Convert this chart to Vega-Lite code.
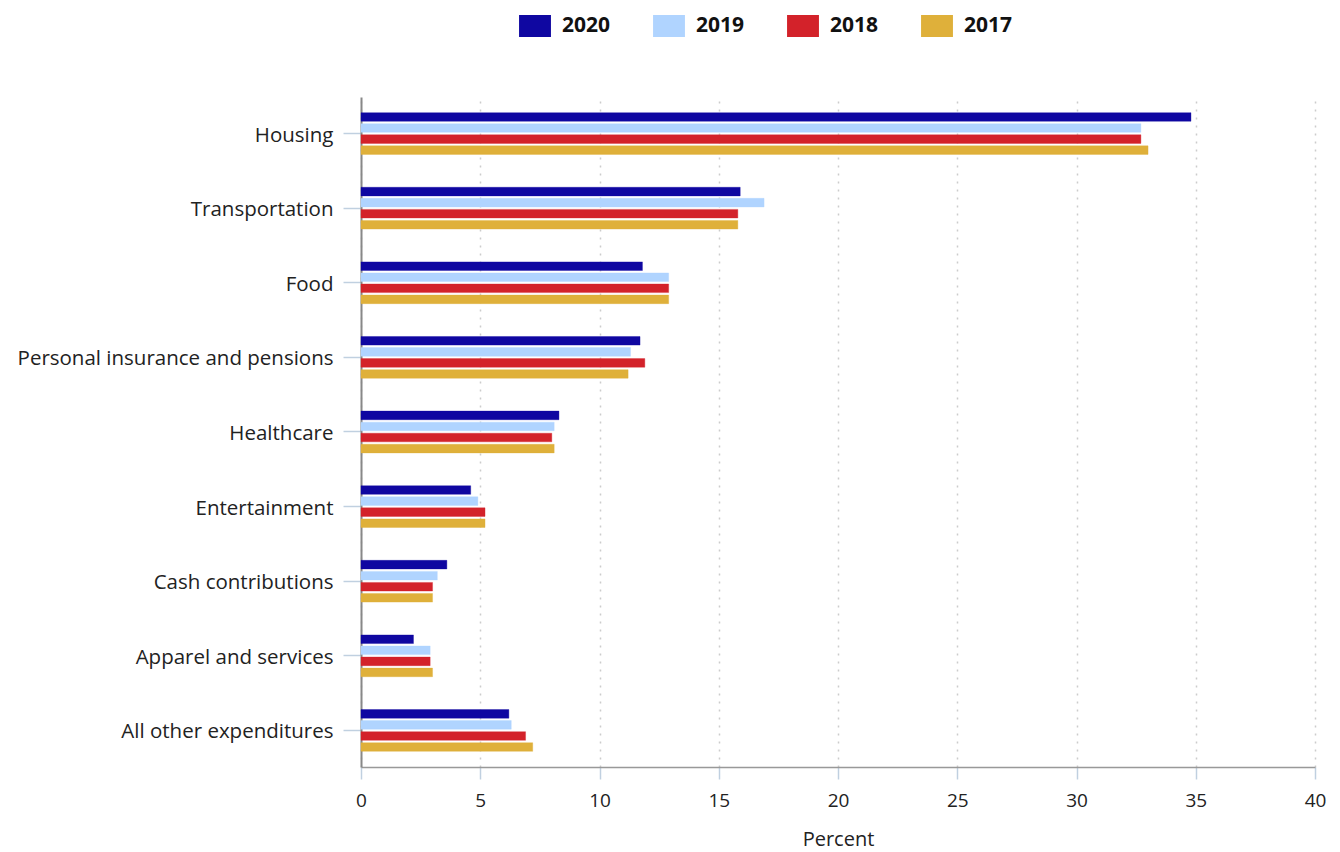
{
  "$schema": "https://vega.github.io/schema/vega-lite/v6.json",
  "autosize": {"type": "none"},
  "padding": {"left": 361, "top": 97, "right": 25, "bottom": 85},
  "width": 954,
  "height": 670,
  "background": "white",
  "config": {
    "view": {"stroke": null},
    "font": "Open Sans"
  },
  "data": {
    "values": [
      {"category": "Housing", "year": "2020", "percent": 34.8},
      {"category": "Housing", "year": "2019", "percent": 32.7},
      {"category": "Housing", "year": "2018", "percent": 32.7},
      {"category": "Housing", "year": "2017", "percent": 33.0},
      {"category": "Transportation", "year": "2020", "percent": 15.9},
      {"category": "Transportation", "year": "2019", "percent": 16.9},
      {"category": "Transportation", "year": "2018", "percent": 15.8},
      {"category": "Transportation", "year": "2017", "percent": 15.8},
      {"category": "Food", "year": "2020", "percent": 11.8},
      {"category": "Food", "year": "2019", "percent": 12.9},
      {"category": "Food", "year": "2018", "percent": 12.9},
      {"category": "Food", "year": "2017", "percent": 12.9},
      {"category": "Personal insurance and pensions", "year": "2020", "percent": 11.7},
      {"category": "Personal insurance and pensions", "year": "2019", "percent": 11.3},
      {"category": "Personal insurance and pensions", "year": "2018", "percent": 11.9},
      {"category": "Personal insurance and pensions", "year": "2017", "percent": 11.2},
      {"category": "Healthcare", "year": "2020", "percent": 8.3},
      {"category": "Healthcare", "year": "2019", "percent": 8.1},
      {"category": "Healthcare", "year": "2018", "percent": 8.0},
      {"category": "Healthcare", "year": "2017", "percent": 8.1},
      {"category": "Entertainment", "year": "2020", "percent": 4.6},
      {"category": "Entertainment", "year": "2019", "percent": 4.9},
      {"category": "Entertainment", "year": "2018", "percent": 5.2},
      {"category": "Entertainment", "year": "2017", "percent": 5.2},
      {"category": "Cash contributions", "year": "2020", "percent": 3.6},
      {"category": "Cash contributions", "year": "2019", "percent": 3.2},
      {"category": "Cash contributions", "year": "2018", "percent": 3.0},
      {"category": "Cash contributions", "year": "2017", "percent": 3.0},
      {"category": "Apparel and services", "year": "2020", "percent": 2.2},
      {"category": "Apparel and services", "year": "2019", "percent": 2.9},
      {"category": "Apparel and services", "year": "2018", "percent": 2.9},
      {"category": "Apparel and services", "year": "2017", "percent": 3.0},
      {"category": "All other expenditures", "year": "2020", "percent": 6.2},
      {"category": "All other expenditures", "year": "2019", "percent": 6.3},
      {"category": "All other expenditures", "year": "2018", "percent": 6.9},
      {"category": "All other expenditures", "year": "2017", "percent": 7.2}
    ]
  },
  "mark": {"type": "bar", "strokeWidth": 1, "strokeOpacity": 0.35},
  "encoding": {
    "y": {
      "field": "category",
      "type": "nominal",
      "sort": ["Housing", "Transportation", "Food", "Personal insurance and pensions", "Healthcare", "Entertainment", "Cash contributions", "Apparel and services", "All other expenditures"],
      "scale": {"paddingInner": 0.44, "paddingOuter": 0.21},
      "axis": {
        "title": null,
        "labelFontSize": 20.5,
        "labelLimit": 0,
        "labelColor": "#222222",
        "labelPadding": 10,
        "labelOffset": 2,
        "tickSize": 18,
        "tickColor": "#c0d0e0",
        "tickWidth": 1.5,
        "domainColor": "#888888",
        "domainWidth": 2,
        "grid": false
      }
    },
    "yOffset": {
      "field": "year",
      "type": "nominal",
      "sort": ["2020", "2019", "2018", "2017"],
      "scale": {"paddingInner": 0.22}
    },
    "x": {
      "field": "percent",
      "type": "quantitative",
      "scale": {"domain": [0, 40], "nice": false},
      "axis": {
        "title": "Percent",
        "titleFontSize": 20,
        "titleFontWeight": "normal",
        "titleColor": "#222222",
        "titlePadding": 19,
        "values": [0, 5, 10, 15, 20, 25, 30, 35, 40],
        "labelFontSize": 19,
        "labelFlush": false,
        "labelColor": "#222222",
        "labelPadding": 12,
        "tickSize": 12,
        "tickColor": "#c0d0e0",
        "tickWidth": 1.5,
        "domainColor": "#999999",
        "domainWidth": 1.5,
        "grid": true,
        "gridColor": "#cccccc",
        "gridDash": [2, 6],
        "gridWidth": 1.5
      }
    },
    "color": {
      "field": "year",
      "type": "nominal",
      "sort": ["2020", "2019", "2018", "2017"],
      "scale": {
        "domain": ["2020", "2019", "2018", "2017"],
        "range": ["#0f07a1", "#b0d4ff", "#d3222a", "#dfb03a"]
      },
      "legend": {
        "title": null,
        "orient": "none",
        "legendX": 163,
        "legendY": -82,
        "direction": "horizontal",
        "columns": 4,
        "columnPadding": 42,
        "symbolType": "M-1.45,-1H1.45V1H-1.45Z",
        "symbolSize": 484,
        "symbolStrokeWidth": 0,
        "symbolOpacity": 1,
        "labelFontSize": 21,
        "labelFontWeight": "bold",
        "labelColor": "#111111",
        "labelOffset": 16
      }
    },
    "stroke": {
      "field": "year",
      "type": "nominal",
      "scale": {
        "domain": ["2020", "2019", "2018", "2017"],
        "range": ["#0f07a1", "#b0d4ff", "#d3222a", "#dfb03a"]
      },
      "legend": null
    }
  }
}
